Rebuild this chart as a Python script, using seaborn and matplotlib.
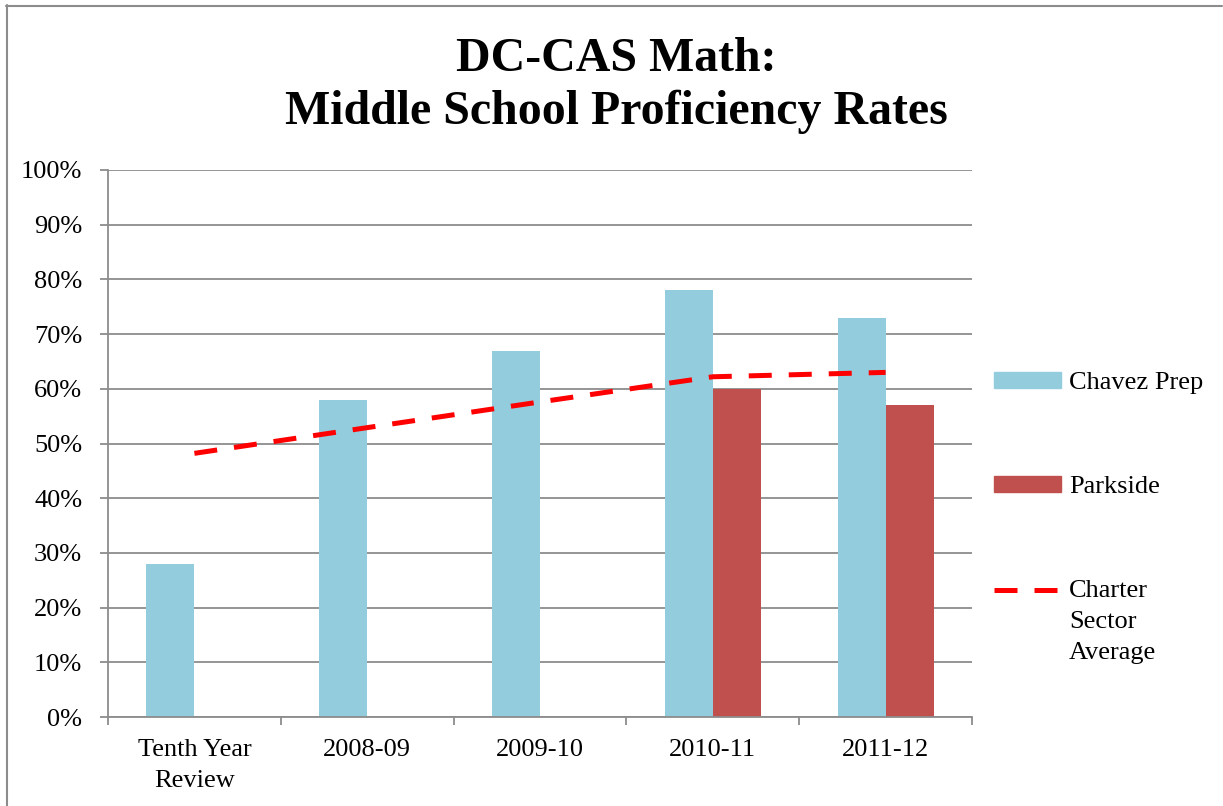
import numpy as np
import pandas as pd
import matplotlib
matplotlib.use('Agg')
import matplotlib.pyplot as plt
import seaborn as sns
from matplotlib.lines import Line2D
from matplotlib.ticker import PercentFormatter, FixedLocator

## Data
years = ['Tenth Year\nReview', '2008-09', '2009-10', '2010-11', '2011-12']
chavez_prep = [28, 58, 67, 78, 73]
parkside = [np.nan, np.nan, np.nan, 60, 57]
charter_avg = [48.2, 52.9, 57.6, 62.2, 63.0]

## Long table for seaborn
df = pd.DataFrame({
    'year': years * 2,
    'school': ['Chavez Prep'] * 5 + ['Parkside'] * 5,
    'rate': chavez_prep + parkside,
})

sns.set_theme(style='white')
plt.rcParams['font.family'] = ['Liberation Serif', 'DejaVu Serif']
plt.rcParams['text.color'] = 'black'
plt.rcParams['xtick.labelcolor'] = 'black'
plt.rcParams['ytick.labelcolor'] = 'black'

grey = '#8c8c8c'
fig = plt.figure(figsize=(12.23, 8.06), dpi=100)
ax = fig.add_axes([108 / 1223, 1 - 717 / 806, (972 - 108) / 1223, (717 - 170) / 806])

sns.barplot(data=df, x='year', y='rate', hue='school', order=years,
            hue_order=['Chavez Prep', 'Parkside'],
            palette=['#93cddd', '#c0504d'], width=0.556, gap=0,
            errorbar=None, saturation=1, linewidth=0, ax=ax)

sns.lineplot(x=np.arange(len(years)), y=charter_avg, color='#ff0000',
             linewidth=3.6, dashes=[(4.6, 3.4)], style=[0] * len(years),
             legend=False, ax=ax)

ax.set_xlim(-0.5, len(years) - 0.5)
ax.set_ylim(0, 100)
ax.yaxis.set_major_formatter(PercentFormatter(decimals=0))
ax.set_yticks(np.arange(0, 101, 10))
ax.set_xlabel('')
ax.set_ylabel('')

ax.grid(axis='y', color=grey, linewidth=1.3)
ax.set_axisbelow(True)
for side in ['top', 'right']:
    ax.spines[side].set_visible(False)
for side in ['left', 'bottom']:
    ax.spines[side].set_color(grey)
    ax.spines[side].set_linewidth(1.3)

ax.tick_params(axis='y', length=6, width=1.3, color=grey, labelsize=19, pad=12.5, left=True)
ax.tick_params(axis='x', which='major', length=0, labelsize=19, pad=16)
ax.xaxis.set_minor_locator(FixedLocator(np.arange(-0.5, len(years), 1.0)))
ax.tick_params(axis='x', which='minor', length=6, width=1.3, color=grey, bottom=True)
for lab in ax.get_xticklabels():
    lab.set_linespacing(1.5)

## Legend to the right, outside the plot area
handles = [
    plt.Rectangle((0, 0), 1, 1, color='#93cddd'),
    plt.Rectangle((0, 0), 1, 1, color='#c0504d'),
    Line2D([0], [0], color='#ff0000', linewidth=3.6, dashes=(4.6, 3.4)),
]
labels = ['Chavez Prep', 'Parkside', 'Charter\nSector\nAverage']
leg = ax.legend(handles, labels, loc='center left', bbox_to_anchor=(994 / 1223, 1 - 518 / 806),
                bbox_transform=fig.transFigure, frameon=False, fontsize=19,
                handlelength=2.55, handleheight=0.53, handletextpad=0.3,
                labelspacing=3.1, borderpad=0, borderaxespad=0)
for t in leg.get_texts():
    t.set_linespacing(1.52)
leg.legend_handles[2].set_ydata(leg.legend_handles[2].get_ydata() + 23)

## Title
fig.text(0.504, 1 - 37 / 806, 'DC-CAS Math:\nMiddle School Proficiency Rates',
         ha='center', va='top', fontsize=34.5, fontweight='bold', linespacing=1.24)

## Outer border (top and left edges only)
fig.add_artist(Line2D([6 / 1223, 1222 / 1223], [1 - 5.5 / 806, 1 - 5.5 / 806],
                      transform=fig.transFigure, color=grey, linewidth=1.5))
fig.add_artist(Line2D([6.5 / 1223, 6.5 / 1223], [0, 1 - 5 / 806],
                      transform=fig.transFigure, color=grey, linewidth=1.5))

fig.savefig('out.png', dpi=100)
